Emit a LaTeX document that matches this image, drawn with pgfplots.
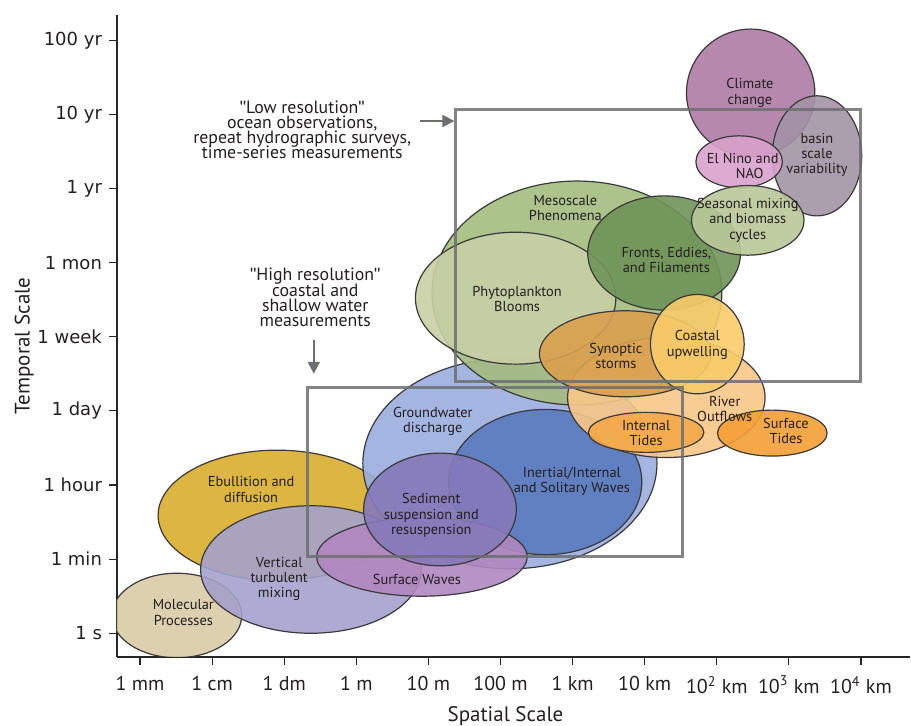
\documentclass[border=0pt]{standalone}
\usepackage{pgfplots}
\pgfplotsset{compat=1.18}
\usetikzlibrary{arrows.meta}
\usepackage{fontspec}
\setmainfont{PT Sans}
\newfontfamily\vfont{DejaVu Sans}
\newfontfamily\qfont{Liberation Sans}
\newcommand\q{{\qfont\symbol{34}}}

\definecolor{molec}{HTML}{D9CBA6}
\definecolor{ebull}{HTML}{D9AD2E}
\definecolor{vert}{HTML}{A5A1CC}
\definecolor{swave}{HTML}{B087C0}
\definecolor{ground}{HTML}{99ADDD}
\definecolor{inert}{HTML}{5B7BBF}
\definecolor{sedim}{HTML}{8679BA}
\definecolor{meso}{HTML}{A4BC80}
\definecolor{phyto}{HTML}{C9CFA5}
\definecolor{fronts}{HTML}{6F9458}
\definecolor{synop}{HTML}{D9A04E}
\definecolor{coast}{HTML}{F9CC6A}
\definecolor{river}{HTML}{F8C788}
\definecolor{itides}{HTML}{F5A94A}
\definecolor{stides}{HTML}{F49F36}
\definecolor{climate}{HTML}{AE7BA4}
\definecolor{basin}{HTML}{A293A4}
\definecolor{nino}{HTML}{D9A1CC}
\definecolor{season}{HTML}{B9C899}
\definecolor{edge}{HTML}{3A3A3A}
\definecolor{boxgray}{HTML}{6D6E71}
\definecolor{txt}{HTML}{231F20}

\tikzset{
  blob/.style={fill=#1, fill opacity=0.9, draw=edge, draw opacity=1, line width=0.6pt},
  lbl/.style={align=center, inner sep=0pt, text=txt, font=\fontsize{7.2}{7.6}\selectfont},
  note/.style={align=center, inner sep=0pt, text=txt, font=\fontsize{8.9}{7.6}\selectfont},
}

\begin{document}
\lineskiplimit=-10pt
\begin{tikzpicture}
\begin{axis}[
  name=ax,
  scale only axis, width=396.5pt, height=321pt,
  xmin=-0.32, xmax=10.68, ymin=-0.32, ymax=8.34,
  axis x line*=bottom, axis y line*=left,
  axis line style={line width=1pt, black!85},
  xtick={0,...,10}, ytick={0,...,8},
  xticklabels={1 mm, 1 cm, 1 dm, 1 m, 10 m, 100 m, 1 km, 10 km,
    10\textsuperscript{2} km, 10\textsuperscript{3} km, 10\textsuperscript{4} km},
  yticklabels={1 s, 1 min, 1 hour, 1 day, 1 week, 1 mon, 1 yr, 10 yr, 100 yr},
  tick align=outside, major tick length=4pt,
  tick style={line width=0.6pt, black!85},
  xticklabel style={font=\fontsize{10}{12}\selectfont, text=txt, yshift=-2pt},
  yticklabel style={font=\vfont\fontsize{9}{11}\selectfont, text=txt},
  xlabel={Spatial Scale}, ylabel={Temporal Scale},
  label style={font=\fontsize{10.5}{12}\selectfont, text=txt},
  xlabel style={xshift=-4pt, yshift=0.5pt},
  ylabel style={yshift=-5pt, xshift=-5pt},
]
% ellipses: centre (spatial index, temporal index), radii in axis units
\filldraw[blob=molec]   (axis cs:0.51,0.24) ellipse [x radius=0.90, y radius=0.57];
\filldraw[blob=ebull]   (axis cs:1.90,1.59) ellipse [x radius=1.65, y radius=0.88];
\filldraw[blob=vert]    (axis cs:2.37,0.86) ellipse [x radius=1.53, y radius=0.86];
\filldraw[blob=ground]  (axis cs:5.13,2.29) ellipse [x radius=2.04, y radius=1.42];
\filldraw[blob=inert]   (axis cs:5.62,2.04) ellipse [x radius=1.34, y radius=0.98];
\filldraw[blob=swave]   (axis cs:3.91,1.03) ellipse [x radius=1.46, y radius=0.53];
\filldraw[blob=sedim]   (axis cs:4.16,1.67) ellipse [x radius=1.06, y radius=0.76];
\filldraw[blob=meso]    (axis cs:6.06,4.59) ellipse [x radius=2.01, y radius=1.51];
\filldraw[blob=phyto]   (axis cs:5.21,4.52) ellipse [x radius=1.39, y radius=0.89];
\filldraw[blob=fronts]  (axis cs:7.27,5.13) ellipse [x radius=1.06, y radius=0.77];
\filldraw[blob=river]   (axis cs:7.30,3.18) ellipse [x radius=1.37, y radius=0.81];
\filldraw[blob=itides]  (axis cs:7.02,2.71) ellipse [x radius=0.80, y radius=0.27];
\filldraw[blob=stides]  (axis cs:8.77,2.70) ellipse [x radius=0.76, y radius=0.31];
\filldraw[blob=synop]   (axis cs:6.73,3.77) ellipse [x radius=1.19, y radius=0.58];
\filldraw[blob=coast]   (axis cs:7.73,3.90) ellipse [x radius=0.65, y radius=0.67];
\filldraw[blob=climate] (axis cs:8.47,7.29) ellipse [x radius=0.89, y radius=0.86];
\filldraw[blob=basin]   (axis cs:9.39,6.44) ellipse [x radius=0.62, y radius=0.81];
\filldraw[blob=nino]    (axis cs:8.31,6.36) ellipse [x radius=0.60, y radius=0.35];
\filldraw[blob=season]  (axis cs:8.43,5.57) ellipse [x radius=0.78, y radius=0.47];

% measurement windows
\addplot[boxgray, draw opacity=0.85, line width=1.5pt] coordinates
  {(4.38,3.39) (10.0,3.39) (10.0,7.06) (4.38,7.06)} -- cycle;
\addplot[boxgray, draw opacity=0.85, line width=1.5pt] coordinates
  {(2.32,1.04) (7.53,1.04) (7.53,3.31) (2.32,3.31)} -- cycle;
\addplot[boxgray, line width=1pt, -{Triangle[length=6pt, width=6pt]}] coordinates
  {(3.88,6.91) (4.36,6.91)};
\addplot[boxgray, line width=1pt, -{Triangle[length=6pt, width=6pt]}] coordinates
  {(2.41,3.95) (2.41,3.50)};

\node[note] at (axis cs:2.25,6.79) {\q Low resolution\q\\ocean observations,\\repeat hydrographic surveys,\\time-series measurements};
\node[note] at (axis cs:2.43,4.53) {\q High resolution\q\\coastal and\\shallow water\\measurements};

\node[lbl] at (axis cs:8.46,7.29) {Climate\\change};
\node[lbl] at (axis cs:9.39,6.45) {basin\\scale\\variability};
\node[lbl] at (axis cs:8.36,6.30) {El Nino and\\\hbox{\kern7pt NAO}};
\node[lbl] at (axis cs:8.43,5.57) {Seasonal mixing\\and biomass\\cycles};
\node[lbl] at (axis cs:5.90,5.74) {Mesoscale\\Phenomena};
\node[lbl] at (axis cs:7.30,5.03) {Fronts, Eddies,\\and Filaments};
\node[lbl] at (axis cs:5.23,4.51) {Phytoplankton\\Blooms};
\node[lbl] at (axis cs:6.60,3.74) {Synoptic\\storms};
\node[lbl] at (axis cs:7.73,3.89) {Coastal\\upwelling};
\node[lbl] at (axis cs:8.11,3.02) {River\\Outflows};
\node[lbl] at (axis cs:7.02,2.70) {Internal\\Tides};
\node[lbl] at (axis cs:8.96,2.73) {Surface\\Tides};
\node[lbl] at (axis cs:4.06,2.86) {Groundwater\\discharge};
\node[lbl] at (axis cs:5.99,2.05) {Inertial/Internal\\and Solitary Waves};
\node[lbl] at (axis cs:4.04,1.59) {Sediment\\suspension and\\resuspension};
\node[lbl] at (axis cs:3.84,0.72) {Surface Waves};
\node[lbl] at (axis cs:1.54,1.94) {Ebullition and\\diffusion};
\node[lbl] at (axis cs:1.93,0.73) {Vertical\\turbulent\\mixing};
\node[lbl] at (axis cs:0.60,0.28) {Molecular\\Processes};
\end{axis}
\pgfresetboundingbox
\path ([shift={(-58.5pt,-34.5pt)}]ax.south west) rectangle ([shift={(0.5pt,7.5pt)}]ax.north east);
\end{tikzpicture}
\end{document}
